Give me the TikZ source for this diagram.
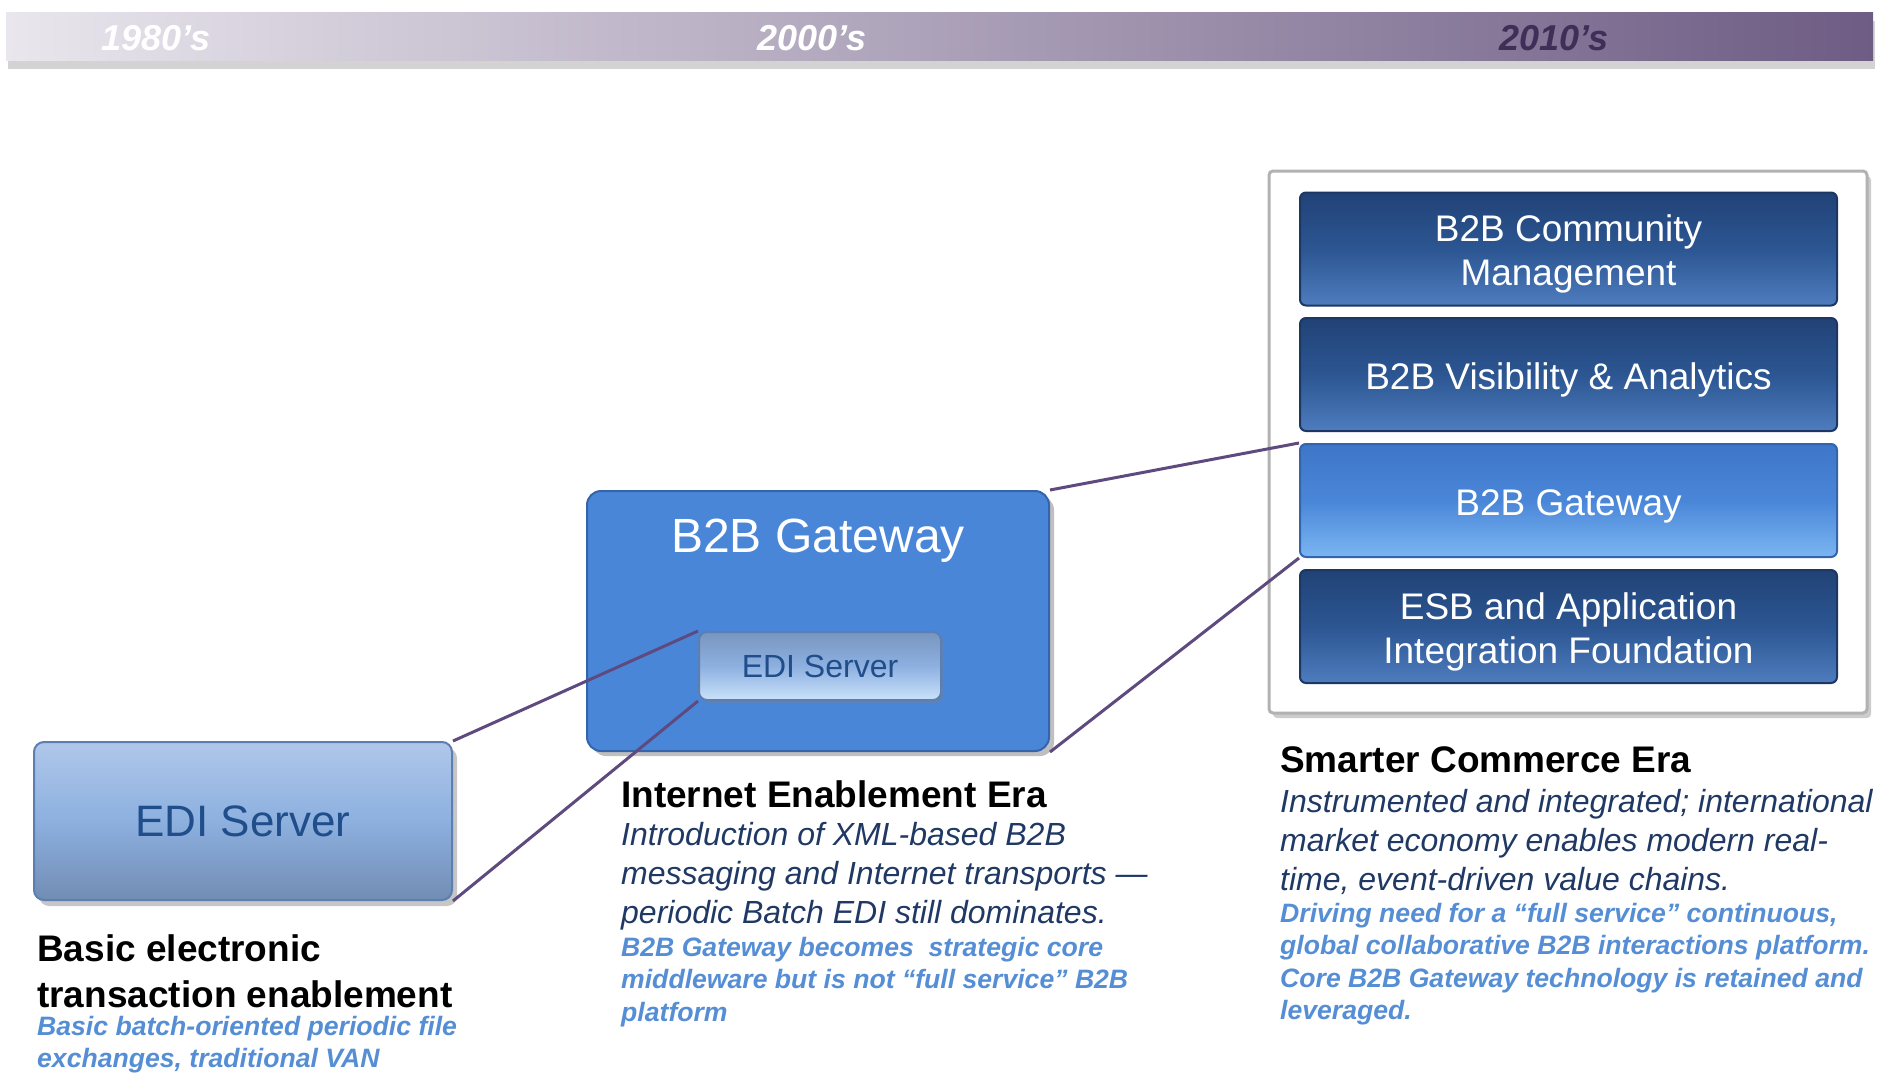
\documentclass[tikz,border=0pt]{standalone}
\usepackage{fontspec}
\setmainfont{Liberation Sans}
\usepackage{tikz}
\usetikzlibrary{shadows}
\usepackage{xcolor}
\definecolor{bandlight}{RGB}{233, 230, 237}
\definecolor{banddark}{RGB}{110, 92, 132}
\definecolor{decadedark}{RGB}{62, 46, 88}
\definecolor{tierblue}{RGB}{44, 86, 146}
\definecolor{tiertop}{RGB}{33, 66, 118}
\definecolor{tierbot}{RGB}{78, 124, 190}
\definecolor{tieredge}{RGB}{28, 56, 98}
\definecolor{gwblue}{RGB}{74, 134, 216}
\definecolor{gwedge}{RGB}{52, 100, 172}
\definecolor{gwtop}{RGB}{62, 118, 200}
\definecolor{gwbot}{RGB}{122, 182, 242}
\definecolor{edilight}{RGB}{141, 176, 224}
\definecolor{ediedge}{RGB}{92, 126, 176}
\definecolor{editext}{RGB}{31, 78, 138}
\definecolor{linkpurple}{RGB}{94, 74, 126}
\definecolor{navy}{RGB}{31, 56, 100}
\definecolor{noteblue}{RGB}{85, 142, 213}

\begin{document}
\begin{tikzpicture}[x=1pt, y=-1pt, every node/.style={inner sep=0pt},
  tier/.style={draw=tieredge, line width=2pt, rounded corners=6pt,
    top color=tiertop, bottom color=tierbot, middle color=tierblue,
    minimum width=537pt, minimum height=113pt, align=center, text=white,
    text height=37pt, font=\fontsize{37}{44}\selectfont},
  twoline/.style={text height=81pt},
  link/.style={draw=linkpurple, line width=3pt},
  heading/.style={anchor=north west, align=left,
    font=\bfseries\fontsize{37}{46}\selectfont},
  story/.style={anchor=north west, align=left, text=navy,
    font=\itshape\fontsize{32}{39}\selectfont},
  note/.style={anchor=north west, align=left, text=noteblue,
    font=\bfseries\itshape\fontsize{26.6}{32.3}\selectfont},
  decade/.style={font=\bfseries\itshape\fontsize{36}{40}\selectfont}]

\useasboundingbox (0, 0) rectangle (1877, 1074);

% Time band across the top
\node[minimum width=1867pt, minimum height=48pt, left color=bandlight,
      right color=banddark, drop shadow={shadow xshift=2pt, shadow yshift=-9pt, opacity=.35}]
      (band) at (939.5, 36) {};
\node[decade, text=white] (d80) at (156, 38) {1980’s};
\node[decade, text=white] (d00) at (812, 38) {2000’s};
\node[decade, text=decadedark] (d10) at (1554, 38) {2010’s};

% Smarter commerce stack (right)
\node[draw=black!30, line width=3pt, fill=white, rounded corners=4pt,
      minimum width=598pt, minimum height=542pt,
      drop shadow={shadow xshift=4pt, shadow yshift=-5pt, opacity=.4}]
      (stack) at (1568, 442) {};
\node[tier, twoline] (comm) at (1568.5, 249) {B2B Community\\Management};
\node[tier] (vis) at (1568.5, 374.5) {B2B Visibility \& Analytics};
\node[tier, top color=gwtop, bottom color=gwbot, middle color=gwblue,
      draw=gwedge] (tgw) at (1568.5, 500.5) {B2B Gateway};
\node[tier, twoline] (esb) at (1568.5, 626.5) {ESB and Application\\Integration Foundation};

% Internet era gateway (middle)
\node[draw=gwedge, line width=2pt, fill=gwblue, rounded corners=14pt,
      minimum width=462pt, minimum height=260pt,
      drop shadow={shadow xshift=5pt, shadow yshift=-5pt, opacity=.5}]
      (gw) at (818, 621) {};
\node[text=white, font=\fontsize{48}{56}\selectfont] (gwtitle) at (818, 541) {B2B Gateway};
\node[draw=ediedge, line width=2pt, rounded corners=8pt,
      top color=edilight!85!black, bottom color=gwbot!40!white, middle color=edilight,
      minimum width=242pt, minimum height=68pt, text=editext,
      font=\fontsize{32}{38}\selectfont,
      drop shadow={shadow xshift=3pt, shadow yshift=-3pt, opacity=.35}]
      (gwedi) at (820, 666) {EDI Server};

% Basic EDI (left)
\node[draw=ediedge, line width=2pt, rounded corners=10pt,
      top color=edilight!70!white, bottom color=edilight!80!black, middle color=edilight,
      minimum width=418pt, minimum height=158pt, text=editext,
      font=\fontsize{44}{52}\selectfont,
      drop shadow={shadow xshift=5pt, shadow yshift=-6pt, opacity=.45}]
      (edi) at (243, 821) {EDI Server};

% Connectors between eras
\draw[link] (edi.north east) -- (gwedi.north west);
\draw[link] (edi.south east) -- (gwedi.south west);
\draw[link] (gw.north east) -- (tgw.north west);
\draw[link] (gw.south east) -- (tgw.south west);

% Captions
\node[heading] (basichead) at (37, 934) {Basic electronic\\transaction enablement};
\node[note] (basicnote) at (37, 1016) {Basic batch-oriented periodic file\\exchanges, traditional VAN};

\node[heading] (nethead) at (621, 780) {Internet Enablement Era};
\node[story] (netstory) at (621, 822) {Introduction of XML-based B2B\\messaging and Internet transports —\\periodic Batch EDI still dominates.};
\node[note] (netnote) at (621, 937) {B2B Gateway becomes\ \ strategic core\\middleware but is not “full service” B2B\\platform};

\node[heading] (smarthead) at (1280, 746) {Smarter Commerce Era};
\node[story] (smartstory) at (1280, 789) {Instrumented and integrated; international\\market economy enables modern real-\\time, event-driven value chains.};
\node[note] (smartnote) at (1280, 903) {Driving need for a “full service” continuous,\\global collaborative B2B interactions platform.\\Core B2B Gateway technology is retained and\\leveraged.};

\end{tikzpicture}
\end{document}
